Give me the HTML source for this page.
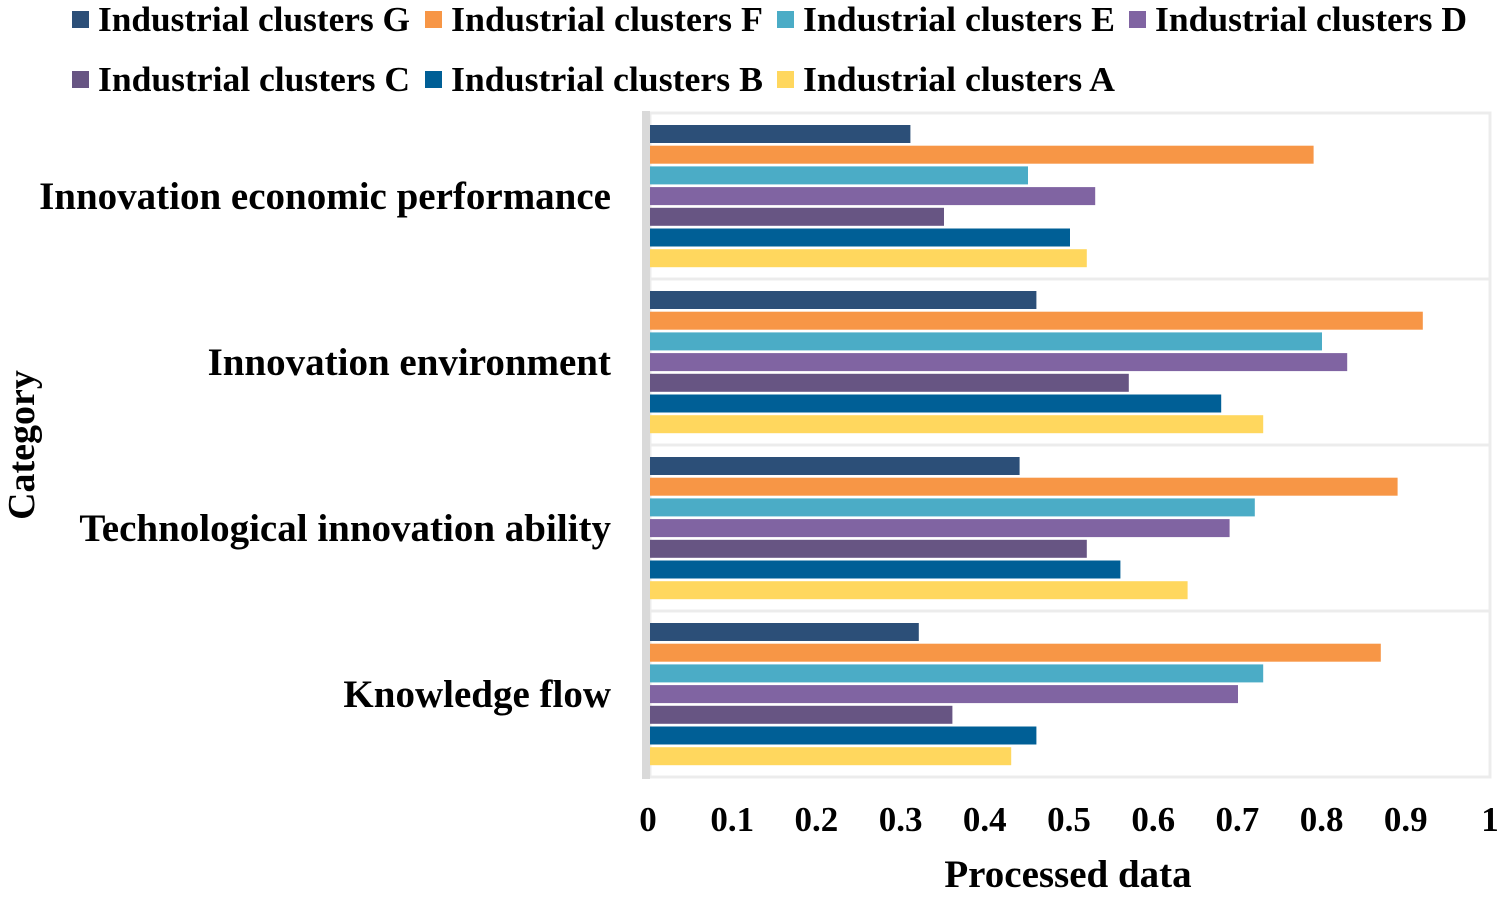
<!DOCTYPE html>
<html><head><meta charset="utf-8"><style>
body{margin:0;background:#fff;width:1502px;height:899px;overflow:hidden;font-family:"Liberation Serif",serif;font-weight:bold}
</style></head><body>
<svg id="c" width="1502" height="899" xmlns="http://www.w3.org/2000/svg"></svg>
<script>
const categories=["Innovation economic performance","Innovation environment","Technological innovation ability","Knowledge flow"];
const seriesNames=["Industrial clusters G","Industrial clusters F","Industrial clusters E","Industrial clusters D","Industrial clusters C","Industrial clusters B","Industrial clusters A"];
const seriesColors=["#2c4f78","#f79646","#4bacc6","#8064a2","#675583","#005f96","#ffd75e"];
const valsG=[0.31,0.46,0.44,0.32];
const valsF=[0.79,0.92,0.89,0.87];
const valsE=[0.45,0.80,0.72,0.73];
const valsD=[0.53,0.83,0.69,0.70];
const valsC=[0.35,0.57,0.52,0.36];
const valsB=[0.50,0.68,0.56,0.46];
const valsA=[0.52,0.73,0.64,0.43];
const seriesVals=[valsG,valsF,valsE,valsD,valsC,valsB,valsA];
const ticks=["0","0.1","0.2","0.3","0.4","0.5","0.6","0.7","0.8","0.9","1"];
const tickVals=[0,0.1,0.2,0.3,0.4,0.5,0.6,0.7,0.8,0.9,1];

const svg=document.getElementById('c');
const NS="http://www.w3.org/2000/svg";
function mk(t,a){const e=document.createElementNS(NS,t);for(const k in a)e.setAttribute(k,a[k]);svg.appendChild(e);return e;}
const plotTop=113,plotBot=777,plotLeft=650,plotRight=1490;
const bandH=(plotBot-plotTop)/categories.length;
const xs=v=>plotLeft+v*(plotRight-plotLeft);
const tickX=v=>648+v*842;

let fr=mk('rect',{x:plotLeft,y:plotTop,width:plotRight-plotLeft,height:plotBot-plotTop,fill:'none',stroke:'#ececec','stroke-width':3});


for(let i=1;i<categories.length;i++){
 const g=mk('line',{x1:plotLeft,x2:plotRight,y1:plotTop+i*bandH,y2:plotTop+i*bandH,stroke:'#ececec','stroke-width':3});
 
 
}
const ax=mk('rect',{x:642,y:plotTop-2,width:8,height:plotBot-plotTop+4,fill:'#d9d9d9'});



categories.forEach((c,ci)=>{
 const b0=plotTop+ci*bandH;
 seriesVals.forEach((vals,si)=>{
  const y=b0+12+si*20.7;
  const r=mk('rect',{x:plotLeft,y:y,width:xs(vals[ci])-plotLeft,height:18,fill:seriesColors[si]});
  
  
 });
 const t=mk('text',{x:611,y:b0+bandH/2+13,'text-anchor':'end','font-size':39,fill:'#000'});
 t.textContent=c;
 
 
});
ticks.forEach((tk,i)=>{
 const t=mk('text',{x:tickX(tickVals[i]),y:831,'text-anchor':'middle','font-size':35,fill:'#000'});
 t.textContent=tk;
 
 
});
let xt=mk('text',{x:1068,y:887,'text-anchor':'middle','font-size':39,fill:'#000'});
xt.textContent='Processed data';


let yt=mk('text',{x:0,y:0,transform:'translate(34,445) rotate(-90)','text-anchor':'middle','font-size':38,fill:'#000'});
yt.textContent='Category';



const legX=[75,428,780,1132];
seriesNames.forEach((n,i)=>{
 const row=i<4?0:1, col=i<4?i:i-4;
 const cy=row?80:20;
 const g=document.createElementNS(NS,'g');svg.appendChild(g);
 
 
 const s=document.createElementNS(NS,'rect');
 s.setAttribute('x',legX[col]-3);s.setAttribute('y',cy-9);s.setAttribute('width',17);s.setAttribute('height',17);s.setAttribute('fill',seriesColors[i]);
 g.appendChild(s);
 const t=document.createElementNS(NS,'text');
 t.setAttribute('x',legX[col]+23);t.setAttribute('y',cy+11);t.setAttribute('font-size',35);
 t.setAttribute('textLength',312);t.setAttribute('lengthAdjust','spacingAndGlyphs');
 t.textContent=n;g.appendChild(t);
});
</script>
</body></html>
